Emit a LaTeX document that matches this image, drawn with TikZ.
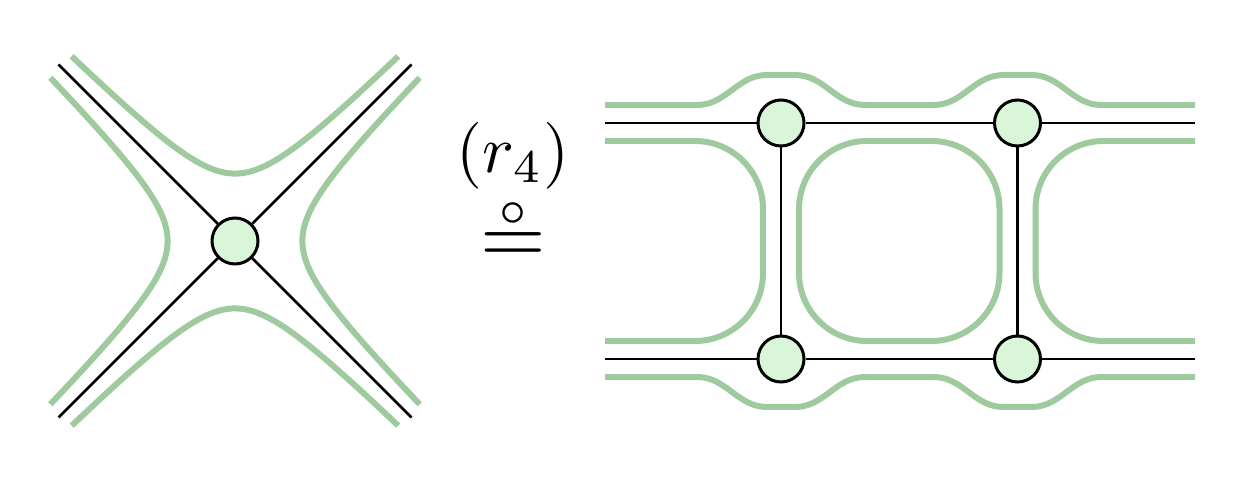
\documentclass[tikz,border=0pt]{standalone}
\usepackage{amsmath}
\usepackage{tikz}
\definecolor{bandgreen}{RGB}{158,202,158}
\definecolor{dotgreen}{RGB}{217,246,217}
\tikzset{wire/.style={line width=.75pt}}
\tikzset{band/.style={bandgreen,line width=1.7pt}}
\tikzset{vtx/.style={circle,draw,line width=.85pt,fill=dotgreen,minimum size=.46cm,inner sep=0pt}}

\begin{document}
\begin{tikzpicture}
  \useasboundingbox (0,0) rectangle (12.39,4.85);
  % one vertex
  \node[vtx] (v0) at (2.35,2.44) {};
  \coordinate (a1) at (0.585,4.205);
  \coordinate (a2) at (4.115,4.205);
  \coordinate (a3) at (0.585,0.675);
  \coordinate (a4) at (4.115,0.675);
  \draw[wire] (a1) -- (v0) -- (a4);
  \draw[wire] (a2) -- (v0) -- (a3);
  \begin{scope}[shift={(v0)}]
    \draw[band] plot[smooth,domain=-1.633:1.633,samples=60] (\x,{sqrt(\x*\x+.3025)+.124});
    \draw[band] plot[smooth,domain=-1.633:1.633,samples=60] (\x,{-sqrt(\x*\x+.3025)-.124});
    \draw[band] plot[smooth,domain=-1.633:1.633,samples=60] ({sqrt(\x*\x+.3025)+.124},\x);
    \draw[band] plot[smooth,domain=-1.633:1.633,samples=60] ({-sqrt(\x*\x+.3025)-.124},\x);
  \end{scope}

  % the rule
  \node[scale=1.9,anchor=base,inner sep=0pt] (rule) at (5.13,3.124) {$(r_4)$};
  \node[scale=2.4,anchor=base,inner sep=0pt] (eq) at (5.13,2.215)
    {$\overset{\raisebox{-1pt}{$\scriptscriptstyle\circ$}}{=}$};

  % four vertices
  \node[vtx] (v1) at (7.81,3.62) {};
  \node[vtx] (v2) at (10.175,3.62) {};
  \node[vtx] (v3) at (7.81,1.26) {};
  \node[vtx] (v4) at (10.175,1.26) {};
  \coordinate (l1) at (6.05,3.62);
  \coordinate (r1) at (11.95,3.62);
  \coordinate (l2) at (6.05,1.26);
  \coordinate (r2) at (11.95,1.26);
  \draw[wire] (l1) -- (v1) -- (v2) -- (r1);
  \draw[wire] (l2) -- (v3) -- (v4) -- (r2);
  \draw[wire] (v1) -- (v3);
  \draw[wire] (v2) -- (v4);
  \draw[band] (6.05,3.8) -- (6.97,3.8) to[out=0,in=180] (7.67,4.1) -- (7.95,4.1)
    to[out=0,in=180] (8.65,3.8) -- (9.335,3.8) to[out=0,in=180] (10.035,4.1)
    -- (10.315,4.1) to[out=0,in=180] (11.015,3.8) -- (11.95,3.8);
  \draw[band] (6.05,1.08) -- (6.97,1.08) to[out=0,in=180] (7.67,0.78) -- (7.95,0.78)
    to[out=0,in=180] (8.65,1.08) -- (9.335,1.08) to[out=0,in=180] (10.035,0.78)
    -- (10.315,0.78) to[out=0,in=180] (11.015,1.08) -- (11.95,1.08);
  \draw[band,rounded corners=.68cm] (6.05,3.44) -- (7.63,3.44) -- (7.63,1.44) -- (6.05,1.44);
  \draw[band,rounded corners=.68cm] (7.99,3.44) rectangle (9.995,1.44);
  \draw[band,rounded corners=.68cm] (11.95,3.44) -- (10.355,3.44) -- (10.355,1.44) -- (11.95,1.44);
\end{tikzpicture}
\end{document}
